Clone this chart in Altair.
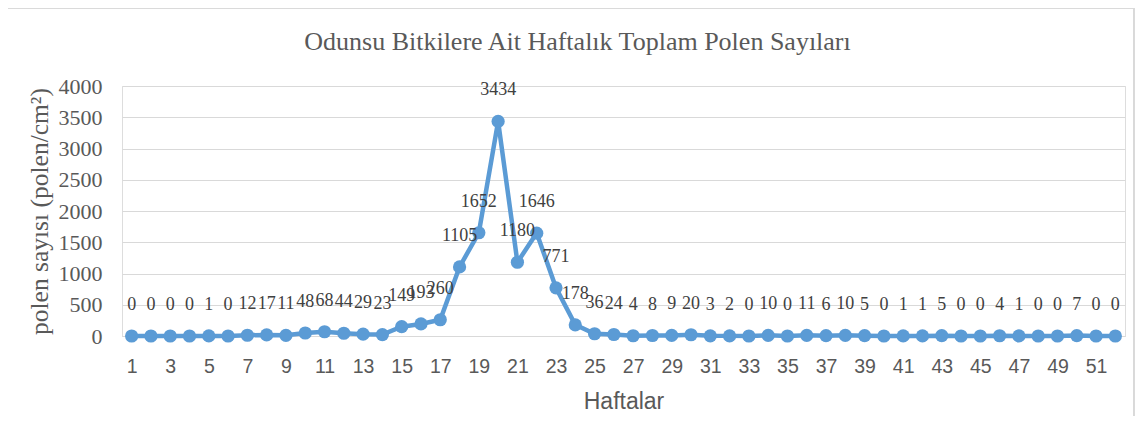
import altair as alt
import pandas as pd

weeks = list(range(1, 53))
counts = [0, 0, 0, 0, 1, 0, 12, 17, 11, 48, 68, 44, 29, 23, 149, 193, 260,
          1105, 1652, 3434, 1180, 1646, 771, 178, 36, 24, 4, 8, 9, 20, 3, 2,
          0, 10, 0, 11, 6, 10, 5, 0, 1, 1, 5, 0, 0, 4, 1, 0, 0, 7, 0, 0]
x_ticks = list(range(1, 52, 2))
y_ticks = list(range(0, 4001, 500))

df = pd.DataFrame({"hafta": weeks, "polen": counts})

W, H = 1003, 250
blue = "#5B9BD5"
serif = "Liberation Serif"
sans = "Liberation Sans"

base = alt.Chart(df).encode(
    x=alt.X("hafta:Q", scale=alt.Scale(domain=[0.5, 52.5], nice=False, zero=False),
            axis=alt.Axis(values=x_ticks, title="Haftalar", grid=False, ticks=False,
                          domain=True, domainColor="#D9D9D9", labelFont=sans,
                          labelFontSize=19.5, labelColor="#595959", labelPadding=21,
                          titleFont=sans, titleFontSize=23, titleColor="#595959",
                          titleFontWeight="normal", titlePadding=15, format="d")),
    y=alt.Y("polen:Q", scale=alt.Scale(domain=[0, 4000], nice=False),
            axis=alt.Axis(values=y_ticks, title="polen sayısı (polen/cm²)", grid=True,
                          gridColor="#D9D9D9", gridWidth=1.2, ticks=False, domain=False,
                          labelFont=serif, labelFontSize=22, labelColor="#595959",
                          labelPadding=20, titleFont=serif, titleFontSize=25.5,
                          titleColor="#595959", titleFontWeight="normal", format="d",
                          titleX=-83, titleY=H / 2, titleAngle=-90,
                          titleAlign="center", titleBaseline="middle")),
)

line = base.mark_line(color=blue, strokeWidth=4.5)
pts = base.mark_point(color=blue, filled=True, opacity=1, size=175)
labels = base.mark_text(dy=-31, font=serif, fontSize=18, color="#404040",
                        baseline="middle").encode(text=alt.Text("polen:Q", format="d"))

frame = alt.Chart(df).mark_rect(fill=None, stroke="#D9D9D9", strokeWidth=1).encode(
    x=alt.value(-115), x2=alt.value(1012), y=alt.value(-78), y2=alt.value(351))

chart = alt.layer(frame, line, pts, labels).properties(
    width=W, height=H,
    title=alt.TitleParams("Odunsu Bitkilere Ait Haftalık Toplam Polen Sayıları",
                          font=serif, fontSize=26, color="#595959",
                          fontWeight="normal", anchor="middle", dx=-46, dy=47, offset=0),
    autosize=alt.AutoSizeParams(type="none"),
    padding={"left": 114, "top": 78, "right": 10, "bottom": 80},
).configure_view(stroke=None).configure(background="white")

chart.save("out.html", embed_options={"renderer": "svg", "actions": False})
